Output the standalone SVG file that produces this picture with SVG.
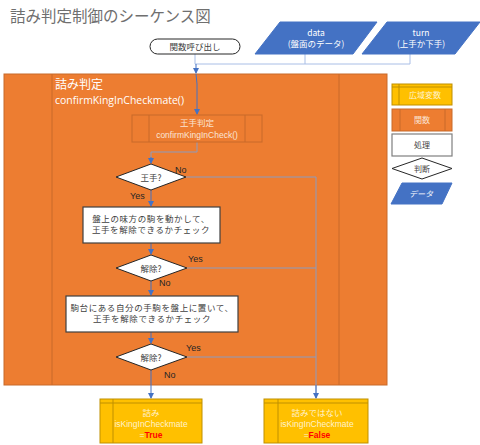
<svg xmlns="http://www.w3.org/2000/svg" width="480" height="445" viewBox="0 0 480 445">
<style>
text{font-family:"Noto Sans CJK JP","Liberation Sans",sans-serif;}
.t{font-size:9px;text-anchor:middle;}
.lt{fill:#FBE5D6;}
.wt{fill:#FFFFFF;}
.dk{fill:#404040;}
.yn{font-family:"Liberation Sans",sans-serif;font-size:9px;fill:#262626;}
.orange{fill:#ED7D31;stroke:#C86A2A;stroke-width:1;}
.yellow{fill:#FFC000;stroke:#BF9000;stroke-width:1;}
.blue{fill:#4472C4;stroke:#4472C4;}
.proc{fill:#FFFFFF;stroke:#404040;stroke-width:1.2;}
.dia{fill:#FFFFFF;stroke:#262626;stroke-width:1;}
.inl{stroke:#C86A2A;stroke-width:1;fill:none;}
.yinl{stroke:#BF9000;stroke-width:1;fill:none;}
.c{stroke:#8B9CC0;stroke-width:1;fill:none;}
.ca{stroke:#4472C4;stroke-width:1;fill:none;marker-end:url(#ar);}
.ct{stroke:#A9BEE6;stroke-width:1;fill:none;}
</style>
<defs>
<marker id="ar" markerWidth="6" markerHeight="6" refX="5" refY="3" orient="auto" markerUnits="userSpaceOnUse">
<path d="M0,0 L6,3 L0,6 z" fill="#4472C4"/>
</marker>
</defs>
<rect width="480" height="445" fill="#FFFFFF"/>
<text x="10" y="22" style="font-size:15.5px;fill:#6F6F6F;">詰み判定制御のシーケンス図</text>

<g id="main">
<rect x="4" y="74" width="383" height="311" class="orange"/>
<line x1="52" y1="74" x2="52" y2="385" class="inl"/>
<line x1="339" y1="74" x2="339" y2="385" class="inl"/>
<text x="55" y="89" style="font-size:12px;fill:#FFFFFF;">詰み判定</text>
<text x="55" y="104" textLength="129" lengthAdjust="spacingAndGlyphs" style="font-size:10.5px;fill:#FFFFFF;font-family:'Open Sans','Liberation Sans',sans-serif;">confirmKingInCheckmate()</text>
</g>

<g id="connectors">
<polyline points="195,54 195,64" class="ct"/>
<polyline points="305,54 305,64 195,64" class="ct"/>
<polyline points="410,54 410,64 305,64" class="ct"/>
<polyline points="196,64 196,73" class="ca"/>
<polyline points="196,74 197,84 197,114" class="ca"/>
<polyline points="197,142 197,152 151,152 151,163" class="c"/>
<polyline points="151,157 151,163" class="ca"/>
<polyline points="151,190 151,206" class="ca"/>
<polyline points="151,243 151,254" class="ca"/>
<polyline points="151,280 151,295" class="ca"/>
<polyline points="151,332 151,343" class="ca"/>
<polyline points="151,369 151,398" class="ca"/>
<polyline points="186,177 316,177 316,398" class="c"/>
<polyline points="316,385 316,398" class="ca"/>
<polyline points="187,268 316,268" class="c"/>
<polyline points="187,357 316,357" class="c"/>
<text x="175" y="173" class="yn">No</text>
<text x="130" y="199" class="yn">Yes</text>
<text x="188" y="262" class="yn">Yes</text>
<text x="159" y="286" class="yn">No</text>
<text x="186" y="351" class="yn">Yes</text>
<text x="164" y="378" class="yn">No</text>
</g>

<g id="start">
<rect x="150" y="39" width="90" height="15" rx="7.5" ry="7.5" fill="#FFFFFF" stroke="#262626" stroke-width="1"/>
<text x="195" y="50" class="t dk" style="font-size:8.5px;">関数呼び出し</text>
</g>

<g id="data">
<polygon points="280,22 377,22 353,54 255,54" class="blue"/>
<text x="316" y="36" class="t wt" style="font-size:8.5px;">data</text>
<text x="316" y="47" class="t wt" style="font-size:8.5px;">(盤面のデータ)</text>
</g>

<g id="turn">
<polygon points="387,22 480,22 455,54 362,54" class="blue"/>
<text x="421" y="36" class="t wt" style="font-size:8.5px;">turn</text>
<text x="421" y="47" class="t wt" style="font-size:8.5px;">(上手か下手)</text>
</g>

<g id="checkFunc">
<rect x="132" y="115" width="130" height="27" class="orange"/>
<line x1="149" y1="115" x2="149" y2="142" class="inl"/>
<line x1="245" y1="115" x2="245" y2="142" class="inl"/>
<text x="197" y="126" class="t lt" style="font-size:8.5px;">王手判定</text>
<text x="197" y="138" class="t lt" style="font-size:8.5px;font-family:'Liberation Sans',sans-serif;">confirmKingInCheck()</text>
</g>

<g id="dia1">
<polygon points="151,164 186,177 151,190 116,177" class="dia"/>
<text x="151" y="180.5" class="t dk" style="font-size:8.5px;">王手?</text>
</g>

<g id="proc1">
<rect x="83" y="207" width="137" height="36" class="proc"/>
<text x="151" y="222" class="t dk" style="font-size:8.5px;letter-spacing:0.6px;">盤上の味方の駒を動かして、</text>
<text x="151" y="233" class="t dk" style="font-size:8.5px;letter-spacing:0.6px;">王手を解除できるかチェック</text>
</g>

<g id="dia2">
<polygon points="151,255 187,268 151,281 116,268" class="dia"/>
<text x="151" y="271.5" class="t dk" style="font-size:8.5px;">解除?</text>
</g>

<g id="proc2">
<rect x="66" y="296" width="172" height="36" class="proc"/>
<text x="152" y="311" class="t dk" style="font-size:8.5px;letter-spacing:0.6px;">駒台にある自分の手駒を盤上に置いて、</text>
<text x="152" y="322" class="t dk" style="font-size:8.5px;letter-spacing:0.6px;">王手を解除できるかチェック</text>
</g>

<g id="dia3">
<polygon points="151,344 187,357 151,370 116,357" class="dia"/>
<text x="151" y="360.5" class="t dk" style="font-size:8.5px;">解除?</text>
</g>

<g id="trueBox">
<rect x="100" y="399" width="102" height="44" class="yellow"/>
<line x1="113" y1="399" x2="113" y2="443" class="yinl"/>
<line x1="100" y1="403" x2="202" y2="403" class="yinl"/>
<text x="151" y="416" class="t" style="font-size:8.5px;fill:#FFF2CC;">詰み</text>
<text x="151" y="427" class="t" style="font-size:8.5px;fill:#FFF2CC;font-family:'Liberation Sans',sans-serif;">isKingInCheckmate</text>
<text x="151" y="438" class="t" style="font-size:8.5px;fill:#FFF2CC;font-family:'Liberation Sans',sans-serif;">=<tspan style="fill:#FF0000;font-weight:bold;">True</tspan></text>
</g>

<g id="falseBox">
<rect x="264" y="399" width="104" height="44" class="yellow"/>
<line x1="278" y1="399" x2="278" y2="443" class="yinl"/>
<line x1="264" y1="403" x2="368" y2="403" class="yinl"/>
<text x="317" y="416" class="t" style="font-size:8.5px;fill:#FFF2CC;">詰みではない</text>
<text x="317" y="427" class="t" style="font-size:8.5px;fill:#FFF2CC;font-family:'Liberation Sans',sans-serif;">isKingInCheckmate</text>
<text x="317" y="438" class="t" style="font-size:8.5px;fill:#FFF2CC;font-family:'Liberation Sans',sans-serif;">=<tspan style="fill:#FF0000;font-weight:bold;">False</tspan></text>
</g>

<g id="legendGlobal">
<rect x="392" y="84" width="60" height="21" class="yellow"/>
<line x1="399" y1="84" x2="399" y2="105" class="yinl"/>
<line x1="392" y1="87" x2="452" y2="87" class="yinl"/>
<text x="425" y="98" class="t" style="font-size:8px;fill:#FFF2CC;">広域変数</text>
</g>
<g id="legendFunc">
<rect x="392" y="109" width="60" height="22" class="orange"/>
<line x1="400" y1="109" x2="400" y2="131" class="inl"/>
<line x1="445" y1="109" x2="445" y2="131" class="inl"/>
<text x="422" y="123" class="t lt" style="font-size:8px;">関数</text>
</g>
<g id="legendProc">
<rect x="392" y="134" width="60" height="22" fill="#FFFFFF" stroke="#7F7F7F" stroke-width="1.2"/>
<text x="422" y="148" class="t dk" style="font-size:8px;">処理</text>
</g>
<g id="legendDecision">
<polygon points="422,158 452,168.5 422,179 392,168.5" class="dia"/>
<text x="422" y="172" class="t dk" style="font-size:8px;">判断</text>
</g>
<g id="legendData">
<polygon points="402,183 452,183 442,204 391,204" class="blue"/>
<text x="421" y="197" class="t wt" style="font-size:8px;font-style:italic;">データ</text>
</g>
</svg>
